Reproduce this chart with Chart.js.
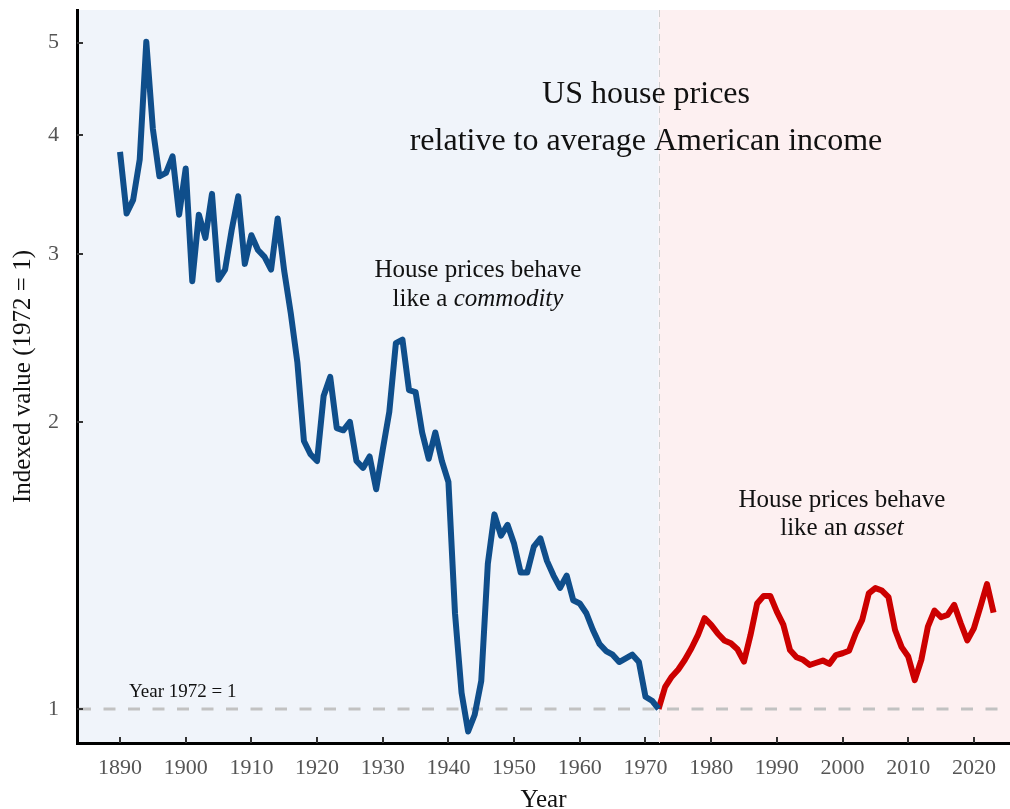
<!DOCTYPE html>
<html>
<head>
<meta charset="utf-8">
<script src="https://cdn.jsdelivr.net/npm/chart.js@4.4.1/dist/chart.umd.min.js"></script>
<style>
  html, body { margin: 0; padding: 0; background: #fff; }
  #wrap { width: 1010px; height: 809px; }
</style>
</head>
<body>
<div id="wrap"><canvas id="chart_house_prices"></canvas></div>
<script>
// house price / income index, 1972 = 1
const commodityStart = 1890;
const commodityValues = [
  3.84, 3.31, 3.42, 3.77, 5.01, 4.06, 3.62, 3.65, 3.80, 3.30, // 1890s
  3.69, 2.81, 3.30, 3.12, 3.47, 2.82, 2.89, 3.18, 3.45, 2.93, // 1900s
  3.14, 3.03, 2.98, 2.89, 3.27, 2.88, 2.60, 2.31, 1.91, 1.85, // 1910s
  1.82, 2.13, 2.23, 1.97, 1.96, 2.00, 1.82, 1.79, 1.84, 1.70, // 1920s
  1.87, 2.05, 2.42, 2.44, 2.16, 2.15, 1.95, 1.83, 1.95, 1.82, // 1930s
  1.73, 1.26, 1.04, 0.947, 0.986, 1.07, 1.42, 1.60, 1.52, 1.56, // 1940s
  1.49, 1.39, 1.39, 1.48, 1.51, 1.43, 1.38, 1.34, 1.38, 1.30, // 1950s
  1.29, 1.26, 1.21, 1.17, 1.15, 1.14, 1.12, 1.13, 1.14, 1.12, // 1960s
  1.03, 1.02, 1.00                                             // 1970-72
];

const assetStart = 1972;
const assetValues = [
  1.00, 1.055, 1.081, 1.10, 1.126, 1.158, 1.196, 1.245,          // 1972-79
  1.225, 1.20, 1.18, 1.172, 1.155, 1.121, 1.196, 1.29, 1.314, 1.314, // 1980s
  1.265, 1.225, 1.153, 1.133, 1.126, 1.112, 1.118, 1.124, 1.115, 1.139, // 1990s
  1.144, 1.151, 1.20, 1.24, 1.322, 1.339, 1.331, 1.31, 1.21, 1.161, // 2000s
  1.135, 1.072, 1.126, 1.22, 1.268, 1.248, 1.255, 1.286, 1.23, 1.18, // 2010s
  1.215, 1.28, 1.352, 1.262                                       // 2020-23
];

const splitYear = 1972;
const xTicks = [1890, 1900, 1910, 1920, 1930, 1940, 1950, 1960, 1970, 1980, 1990, 2000, 2010, 2020];
const yTicks = [1, 2, 3, 4, 5];

function toPoints(start, values) {
  return values.map((v, i) => ({ x: start + i, y: v }));
}

const SERIF = "'Liberation Serif', 'DejaVu Serif', serif";
Chart.defaults.font.family = SERIF;

// shaded backgrounds, reference lines, inward ticks and all the text
const backgroundPlugin = {
  id: "eraBackground",
  beforeDraw(chart) {
    const { ctx, chartArea: a, scales } = chart;
    const xs = scales.x.getPixelForValue(splitYear);
    ctx.save();
    ctx.fillStyle = "#f0f4fa";
    ctx.fillRect(a.left, a.top, xs - a.left, a.bottom - a.top);
    ctx.fillStyle = "#fdf0f1";
    ctx.fillRect(xs, a.top, a.right - xs, a.bottom - a.top);
    ctx.restore();
  },
  beforeDatasetsDraw(chart) {
    const { ctx, chartArea: a, scales } = chart;
    const xs = scales.x.getPixelForValue(splitYear);
    const y1 = scales.y.getPixelForValue(1);
    ctx.save();
    // vertical split line
    ctx.strokeStyle = "#cfcfcf";
    ctx.lineWidth = 1;
    ctx.setLineDash([7, 5]);
    ctx.beginPath();
    ctx.moveTo(Math.round(xs) + 0.5, a.top);
    ctx.lineTo(Math.round(xs) + 0.5, a.bottom);
    ctx.stroke();
    // reference line at 1
    ctx.strokeStyle = "#c2c2c2";
    ctx.lineWidth = 3;
    ctx.setLineDash([12, 12.5]);
    ctx.beginPath();
    ctx.moveTo(a.left + 2, y1);
    ctx.lineTo(a.right, y1);
    ctx.stroke();
    ctx.restore();
  },
  afterDraw(chart) {
    const { ctx, chartArea: a, scales } = chart;
    ctx.save();
    // inward tick marks
    ctx.strokeStyle = "#333";
    ctx.lineWidth = 2;
    xTicks.forEach((t) => {
      const px = Math.round(scales.x.getPixelForValue(t));
      ctx.beginPath();
      ctx.moveTo(px, a.bottom);
      ctx.lineTo(px, a.bottom - 6);
      ctx.stroke();
    });
    yTicks.forEach((t) => {
      const py = Math.round(scales.y.getPixelForValue(t));
      ctx.beginPath();
      ctx.moveTo(a.left, py);
      ctx.lineTo(a.left + 6, py);
      ctx.stroke();
    });

    ctx.fillStyle = "#111";
    ctx.textBaseline = "alphabetic";

    // title
    ctx.font = "32px " + SERIF;
    ctx.textAlign = "center";
    ctx.fillText("US house prices", 646, 103);
    ctx.fillText("relative to average American income", 646, 150);

    // annotations
    ctx.font = "25px " + SERIF;
    ctx.fillText("House prices behave", 478, 277);
    mixedLine(ctx, "like a ", "commodity", 478, 306, 25);
    ctx.font = "25px " + SERIF;
    ctx.textAlign = "center";
    ctx.fillText("House prices behave", 842, 507);
    mixedLine(ctx, "like an ", "asset", 842, 535, 25);

    ctx.font = "19px " + SERIF;
    ctx.textAlign = "left";
    ctx.fillText("Year 1972 = 1", 129, 697);

    // axis titles
    ctx.font = "25px " + SERIF;
    ctx.textAlign = "center";
    ctx.fillText("Year", (a.left + a.right) / 2, 807);
    ctx.translate(30, (a.top + a.bottom) / 2);
    ctx.rotate(-Math.PI / 2);
    ctx.fillText("Indexed value (1972 = 1)", 0, 0);
    ctx.restore();
  },
};

function mixedLine(ctx, plain, italic, cx, y, size) {
  ctx.font = size + "px " + SERIF;
  const w1 = ctx.measureText(plain).width;
  ctx.font = "italic " + size + "px " + SERIF;
  const w2 = ctx.measureText(italic).width;
  const x0 = cx - (w1 + w2) / 2;
  ctx.textAlign = "left";
  ctx.font = size + "px " + SERIF;
  ctx.fillText(plain, x0, y);
  ctx.font = "italic " + size + "px " + SERIF;
  ctx.fillText(italic, x0 + w1, y);
  ctx.textAlign = "center";
}

const ctxHP = document.getElementById("chart_house_prices").getContext("2d");
const housePriceChart = new Chart(ctxHP, {
  type: "line",
  data: {
    datasets: [
      {
        label: "Commodity era",
        data: toPoints(commodityStart, commodityValues),
        borderColor: "#0f4e8b",
        borderWidth: 6,
        pointRadius: 0,
        tension: 0,
        borderJoinStyle: "round",
        fill: false,
      },
      {
        label: "Asset era",
        data: toPoints(assetStart, assetValues),
        borderColor: "#cc0000",
        borderWidth: 6,
        pointRadius: 0,
        tension: 0,
        borderJoinStyle: "round",
        fill: false,
      },
    ],
  },
  options: {
    animation: false,
    responsive: true,
    maintainAspectRatio: false,
    devicePixelRatio: 1,
    layout: { padding: { top: 10, left: 0, right: 0, bottom: 0 } },
    plugins: {
      legend: { display: false },
      tooltip: { enabled: false },
    },
    scales: {
      x: {
        type: "linear",
        min: 1883.45,
        max: 2025.5,
        grid: { display: false, drawTicks: false },
        border: { display: true, color: "#000", width: 3 },
        ticks: {
          color: "#555",
          font: { size: 22 },
          padding: 12,
          maxRotation: 0,
          autoSkip: false,
          callback: (v) => String(v),
        },
        afterBuildTicks: (s) => {
          s.ticks = xTicks.map((v) => ({ value: v }));
        },
        afterFit: (s) => {
          s.height = 66;
          s.paddingLeft = 0;
          s.paddingRight = 0;
        },
      },
      y: {
        type: "logarithmic",
        min: 0.921,
        max: 5.41,
        grid: { display: false, drawTicks: false },
        border: { display: true, color: "#000", width: 3 },
        ticks: {
          color: "#555",
          font: { size: 22 },
          padding: 18,
          autoSkip: false,
          callback: (v) => String(v),
        },
        afterBuildTicks: (s) => {
          s.ticks = yTicks.map((v) => ({ value: v }));
        },
        afterFit: (s) => {
          s.width = 77;
          s.paddingTop = 0;
          s.paddingBottom = 0;
        },
      },
    },
  },
  plugins: [backgroundPlugin],
});
</script>
</body>
</html>
